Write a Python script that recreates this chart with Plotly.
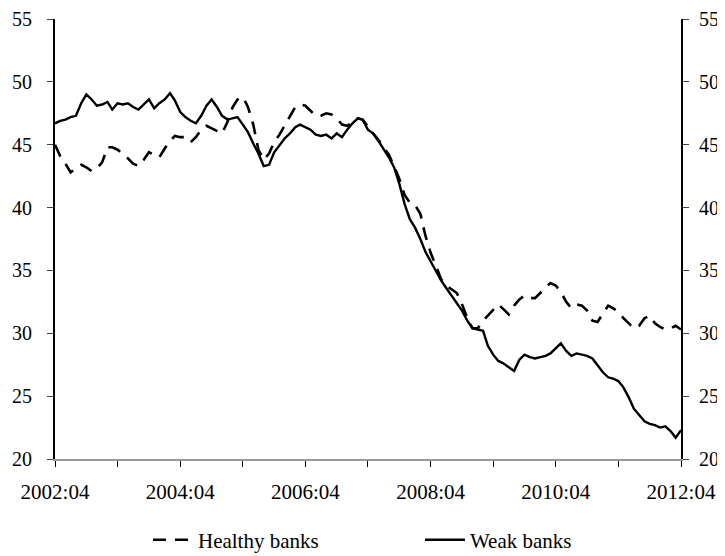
import pandas as pd
import plotly.graph_objects as go

dates = pd.date_range("2002-04-01", "2012-04-01", freq="MS")

healthy = [
    45.0, 44.1, 43.5, 42.8, 43.1, 43.4, 43.2, 42.9, 43.1, 43.6, 44.8, 44.8,
    44.6, 44.3, 43.9, 43.5, 43.3, 43.8, 44.4, 44.2, 44.0, 44.7, 45.3, 45.7,
    45.6, 45.6, 45.2, 45.6, 46.2, 46.5, 46.3, 46.1, 45.9, 46.8, 48.0, 48.6,
    48.8, 48.0, 46.6, 44.6, 43.8, 44.3, 45.2, 45.8, 46.5, 47.2, 48.0, 48.2,
    48.1, 47.7, 47.3, 47.3, 47.5, 47.4, 47.1, 46.6, 46.5, 46.8, 47.1, 47.0,
    46.4, 45.9, 45.4, 44.8, 44.2, 43.3, 42.3, 41.0, 40.4, 40.2, 39.5, 37.8,
    36.4, 35.4, 34.3, 33.8, 33.5, 33.2, 32.3, 31.2, 30.4, 30.4, 31.0, 31.4,
    31.8, 32.3, 31.9, 31.5, 32.2, 32.7, 33.0, 32.8, 32.8, 33.2, 33.6, 34.0,
    33.8, 33.3, 32.5, 32.0, 32.3, 32.2, 31.8, 31.0, 30.9, 31.6, 32.2, 32.0,
    31.7, 31.2, 30.8, 30.4, 30.6, 31.2, 31.4, 30.8, 30.5, 30.3, 30.4, 30.6,
    30.3,
]

weak = [
    46.7, 46.9, 47.0, 47.2, 47.3, 48.3, 49.0, 48.6, 48.1, 48.2, 48.4, 47.8,
    48.3, 48.2, 48.3, 48.0, 47.8, 48.2, 48.6, 47.9, 48.3, 48.6, 49.1, 48.5,
    47.6, 47.2, 46.9, 46.7, 47.3, 48.1, 48.6, 48.0, 47.3, 47.0, 47.1, 47.2,
    46.6, 46.0, 45.1, 44.3, 43.3, 43.4, 44.4, 45.0, 45.5, 45.9, 46.4, 46.6,
    46.4, 46.2, 45.8, 45.7, 45.8, 45.5, 45.9, 45.6, 46.2, 46.7, 47.1, 47.0,
    46.2, 45.9, 45.3, 44.7, 44.0, 43.2, 41.9, 40.3, 39.1, 38.4, 37.5, 36.5,
    35.7, 35.0, 34.2, 33.6, 33.0, 32.4, 31.8, 31.0, 30.4, 30.3, 30.2, 29.0,
    28.3, 27.8, 27.6, 27.3, 27.0, 27.9, 28.3, 28.1, 28.0, 28.1, 28.2, 28.4,
    28.8, 29.2, 28.6, 28.2, 28.4, 28.3, 28.2, 28.0, 27.5, 26.9, 26.5, 26.4,
    26.2, 25.7, 24.9, 24.0, 23.5, 23.0, 22.8, 22.7, 22.5, 22.6, 22.2, 21.7,
    22.3,
]

tick_dates = ["2002-04-01", "2004-04-01", "2006-04-01", "2008-04-01", "2010-04-01", "2012-04-01"]
tick_labels = ["2002:04", "2004:04", "2006:04", "2008:04", "2010:04", "2012:04"]
y_ticks = [20, 25, 30, 35, 40, 45, 50, 55]

FONT = "Liberation Serif"

fig = go.Figure()
fig.add_trace(go.Scatter(
    x=dates, y=healthy, mode="lines", name="Healthy banks",
    line=dict(color="black", width=2.6, dash="13px,9px"),
))
fig.add_trace(go.Scatter(
    x=dates, y=weak, mode="lines", name="Weak banks", yaxis="y2",
    line=dict(color="black", width=2.4),
))

yax = dict(
    range=[20, 55], tickvals=y_ticks, showgrid=False, zeroline=False,
    showline=True, linecolor="black", linewidth=1.8,
    ticks="outside", ticklen=6, tickcolor="#444", tickwidth=1,
    tickfont=dict(family=FONT, size=20, color="black"),
    ticklabeloverflow="allow", automargin=False,
)

fig.update_layout(
    width=725, height=556,
    margin=dict(l=47, r=52, t=11, b=105, autoexpand=False),
    paper_bgcolor="white", plot_bgcolor="white",
    showlegend=True,
    legend=dict(orientation="h", x=0.1485, xanchor="left",
                yref="container", y=0.043, yanchor="middle",
                font=dict(family=FONT, size=21, color="black"),
                entrywidth=217, entrywidthmode="pixels", itemwidth=40,
                tracegroupgap=0),
    xaxis=dict(
        type="date", range=["2002-04-01", "2012-04-01"],
        tickvals=tick_dates, ticktext=tick_labels, showgrid=False, zeroline=False,
        showline=True, linecolor="#999", linewidth=1.5,
        ticks="outside", ticklen=6, tickcolor="black", tickwidth=1,
        ticklabelstandoff=7, ticklabeloverflow="allow", automargin=False,
        minor=dict(ticks="outside", ticklen=6, tickcolor="black", dtick="M12",
                   tick0="2002-04-01", showgrid=False),
        tickfont=dict(family=FONT, size=21, color="black"),
    ),
    yaxis=dict(**yax, side="left", ticklabelstandoff=11),
    yaxis2=dict(**yax, side="right", overlaying="y", ticklabelstandoff=6),
)

fig.write_html("out.html")
